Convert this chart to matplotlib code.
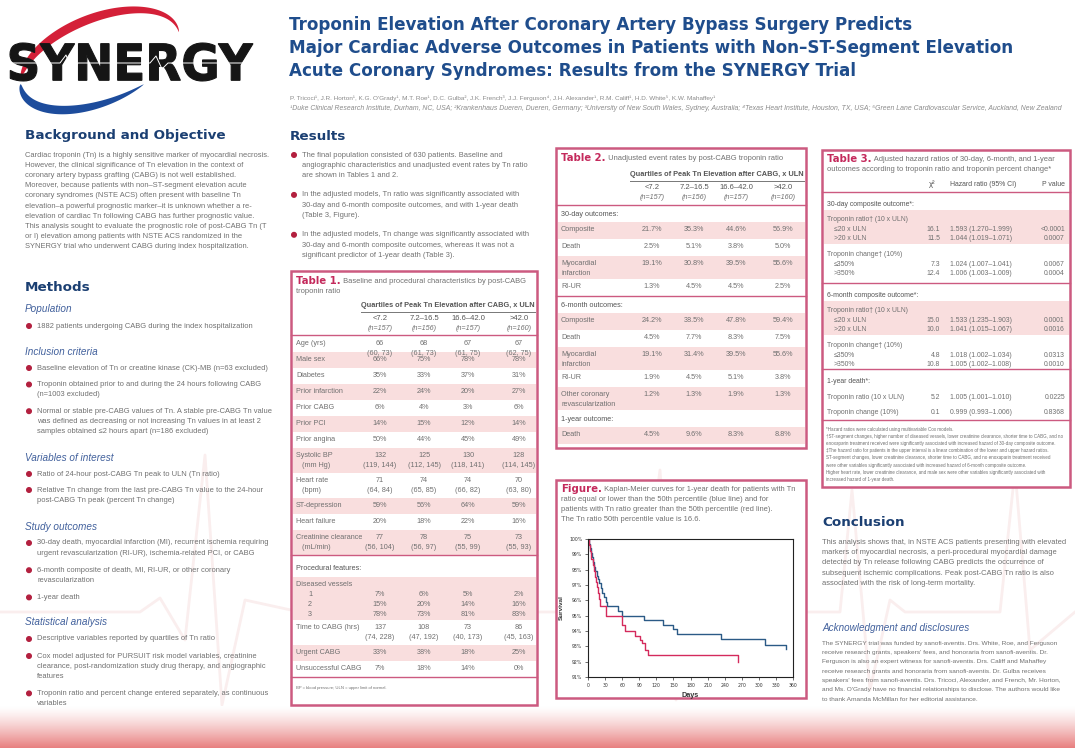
import numpy as np
import matplotlib
matplotlib.use("Agg")
import matplotlib.pyplot as plt
from matplotlib.patches import Rectangle, Polygon, PathPatch, Circle
from matplotlib.textpath import TextPath
from matplotlib.font_manager import FontProperties
from matplotlib.transforms import Affine2D

# ------------------------------------------------------------------ data
title_lines = [
    "Troponin Elevation After Coronary Artery Bypass Surgery Predicts",
    "Major Cardiac Adverse Outcomes in Patients with Non\u2013ST-Segment Elevation",
    "Acute Coronary Syndromes: Results from the SYNERGY Trial",
]
authors = ("P. Tricoci\u00b9, J.R. Horton\u00b9, K.G. O'Grady\u00b9, M.T. Roe\u00b9, D.C. Gulba\u00b2, "
           "J.K. French\u00b3, J.J. Ferguson\u2074, J.H. Alexander\u00b9, R.M. Califf\u00b9, "
           "H.D. White\u2075, K.W. Mahaffey\u00b9")
affiliations = ("\u00b9Duke Clinical Research Institute, Durham, NC, USA; \u00b2Krankenhaus Dueren, Dueren, Germany; "
                "\u00b3University of New South Wales, Sydney, Australia; \u2074Texas Heart Institute, Houston, TX, USA; "
                "\u2075Green Lane Cardiovascular Service, Auckland, New Zealand")

background_text = [
    "Cardiac troponin (Tn) is a highly sensitive marker of myocardial necrosis.",
    "However, the clinical significance of Tn elevation in the context of",
    "coronary artery bypass grafting (CABG) is not well established.",
    "Moreover, because patients with non\u2013ST-segment elevation acute",
    "coronary syndromes (NSTE ACS) often present with baseline Tn",
    "elevation\u2013a powerful prognostic marker\u2013it is unknown whether a re-",
    "elevation of cardiac Tn following CABG has further prognostic value.",
    "This analysis sought to evaluate the prognostic role of post-CABG Tn (T",
    "or I) elevation among patients with NSTE ACS randomized in the",
    "SYNERGY trial who underwent CABG during index hospitalization.",
]

methods_population = [["1882 patients undergoing CABG during the index hospitalization"]]
methods_inclusion = [
    ["Baseline elevation of Tn or creatine kinase (CK)-MB (n=63 excluded)"],
    ["Troponin obtained prior to and during the 24 hours following CABG", "(n=1003 excluded)"],
    ["Normal or stable pre-CABG values of Tn. A stable pre-CABG Tn value",
     "was defined as decreasing or not increasing Tn values in at least 2",
     "samples obtained \u22642 hours apart (n=186 excluded)"],
]
methods_variables = [
    ["Ratio of 24-hour post-CABG Tn peak to ULN (Tn ratio)"],
    ["Relative Tn change from the last pre-CABG Tn value to the 24-hour",
     "post-CABG Tn peak (percent Tn change)"],
]
methods_outcomes = [
    ["30-day death, myocardial infarction (MI), recurrent ischemia requiring",
     "urgent revascularization (RI-UR), ischemia-related PCI, or CABG"],
    ["6-month composite of death, MI, RI-UR, or other coronary", "revascularization"],
    ["1-year death"],
]
methods_stats = [
    ["Descriptive variables reported by quartiles of Tn ratio"],
    ["Cox model adjusted for PURSUIT risk model variables, creatinine",
     "clearance, post-randomization study drug therapy, and angiographic",
     "features"],
    ["Troponin ratio and percent change entered separately, as continuous",
     "variables"],
]

results_bullets = [
    ["The final population consisted of 630 patients. Baseline and",
     "angiographic characteristics and unadjusted event rates by Tn ratio",
     "are shown in Tables 1 and 2."],
    ["In the adjusted models, Tn ratio was significantly associated with",
     "30-day and 6-month composite outcomes, and with 1-year death",
     "(Table 3, Figure)."],
    ["In the adjusted models, Tn change was significantly associated with",
     "30-day and 6-month composite outcomes, whereas it was not a",
     "significant predictor of 1-year death (Table 3)."],
]

quartile_ranges = ["<7.2", "7.2\u201316.5", "16.6\u201342.0", ">42.0"]
quartile_sizes = ["(n=157)", "(n=156)", "(n=157)", "(n=160)"]

baseline_labels = ["Age (yrs)", "Male sex", "Diabetes", "Prior infarction", "Prior CABG",
                   "Prior PCI", "Prior angina", "Systolic BP\n   (mm Hg)", "Heart rate\n   (bpm)",
                   "ST-depression", "Heart failure", "Creatinine clearance\n   (mL/min)"]
baseline_values = [
    ["66\n(60, 73)", "68\n(61, 73)", "67\n(61, 75)", "67\n(62, 75)"],
    ["66%", "75%", "78%", "78%"],
    ["35%", "33%", "37%", "31%"],
    ["22%", "24%", "20%", "27%"],
    ["6%", "4%", "3%", "6%"],
    ["14%", "15%", "12%", "14%"],
    ["50%", "44%", "45%", "49%"],
    ["132\n(119, 144)", "125\n(112, 145)", "130\n(118, 141)", "128\n(114, 145)"],
    ["71\n(64, 84)", "74\n(65, 85)", "74\n(66, 82)", "70\n(63, 80)"],
    ["59%", "56%", "64%", "59%"],
    ["20%", "18%", "22%", "16%"],
    ["77\n(56, 104)", "78\n(56, 97)", "75\n(55, 99)", "73\n(55, 93)"],
]
vessel_counts = ["1", "2", "3"]
vessel_values = [
    ["7%", "6%", "5%", "2%"],
    ["15%", "20%", "14%", "16%"],
    ["78%", "73%", "81%", "83%"],
]
procedure_labels = ["Time to CABG (hrs)", "Urgent CABG", "Unsuccessful CABG"]
procedure_values = [
    ["137\n(74, 228)", "108\n(47, 192)", "73\n(40, 173)", "86\n(45, 163)"],
    ["33%", "38%", "18%", "25%"],
    ["7%", "18%", "14%", "0%"],
]

outcome_30d_labels = ["Composite", "Death", "Myocardial\ninfarction", "RI-UR"]
outcome_30d_rates = [
    ["21.7%", "35.3%", "44.6%", "56.9%"],
    ["2.5%", "5.1%", "3.8%", "5.0%"],
    ["19.1%", "30.8%", "39.5%", "55.6%"],
    ["1.3%", "4.5%", "4.5%", "2.5%"],
]
outcome_6m_labels = ["Composite", "Death", "Myocardial\ninfarction", "RI-UR",
                     "Other coronary\nrevascularization"]
outcome_6m_rates = [
    ["24.2%", "38.5%", "47.8%", "59.4%"],
    ["4.5%", "7.7%", "8.3%", "7.5%"],
    ["19.1%", "31.4%", "39.5%", "55.6%"],
    ["1.9%", "4.5%", "5.1%", "3.8%"],
    ["1.2%", "1.3%", "1.9%", "1.3%"],
]
outcome_1y_labels = ["Death"]
outcome_1y_rates = [["4.5%", "9.6%", "8.3%", "8.8%"]]

hr_30d_ratio = [["\u226420 x ULN", "16.1", "1.593 (1.270\u20131.999)", "<0.0001"],
                [">20 x ULN", "11.5", "1.044 (1.019\u20131.071)", "0.0007"]]
hr_30d_change = [["\u2264350%", "7.3", "1.024 (1.007\u20131.041)", "0.0067"],
                 [">350%", "12.4", "1.006 (1.003\u20131.009)", "0.0004"]]
hr_6m_ratio = [["\u226420 x ULN", "15.0", "1.533 (1.235\u20131.903)", "0.0001"],
               [">20 x ULN", "10.0", "1.041 (1.015\u20131.067)", "0.0016"]]
hr_6m_change = [["\u2264350%", "4.8", "1.018 (1.002\u20131.034)", "0.0313"],
                [">350%", "10.8", "1.005 (1.002\u20131.008)", "0.0010"]]
hr_1y = [["Troponin ratio (10 x ULN)", "5.2", "1.005 (1.001\u20131.010)", "0.0225"],
         ["Troponin change (10%)", "0.1", "0.999 (0.993\u20131.006)", "0.8368"]]
table3_notes = [
    "*Hazard ratios were calculated using multivariable Cox models.",
    "\u2020ST-segment changes, higher number of diseased vessels, lower creatinine clearance, shorter time to CABG, and no",
    "enoxaparin treatment received were significantly associated with increased hazard of 30-day composite outcome.",
    "\u2021The hazard ratio for patients in the upper interval is a linear combination of the lower and upper hazard ratios.",
    "ST-segment changes, lower creatinine clearance, shorter time to CABG, and no enoxaparin treatment received",
    "were other variables significantly associated with increased hazard of 6-month composite outcome.",
    "Higher heart rate, lower creatinine clearance, and male sex were other variables significantly associated with",
    "increased hazard of 1-year death.",
]

figure_caption = [
    "Kaplan-Meier curves for 1-year death for patients with Tn",
    "ratio equal or lower than the 50th percentile (blue line) and for",
    "patients with Tn ratio greater than the 50th percentile (red line).",
    "The Tn ratio 50th percentile value is 16.6.",
]

# Kaplan-Meier survival (%), Tn ratio <= 16.6 (blue) and > 16.6 (red)
km_low_days = [0, 2, 4, 5, 7, 9, 11, 13, 15, 17, 19, 22, 25, 28, 31, 34, 53, 59, 99, 131, 150, 157, 233, 311, 348]
km_low_surv = [100, 99.7, 99.4, 99.1, 98.8, 98.5, 98.2, 97.9, 97.6, 97.4, 97.1, 96.8, 96.5, 96.2, 95.9, 95.6,
               95.3, 95.0, 94.7, 94.4, 94.1, 93.8, 93.45, 93.1, 92.8]
km_high_days = [0, 2, 4, 6, 8, 10, 12, 14, 16, 18, 20, 21, 32, 59, 65, 82, 91, 95, 100, 106, 264]
km_high_surv = [100, 99.6, 99.2, 98.7, 98.3, 97.9, 97.5, 97.2, 96.9, 96.5, 96.1, 95.6, 95.0, 94.4, 94.0,
                93.7, 93.4, 93.2, 92.75, 92.45, 92.0]

conclusion_text = [
    "This analysis shows that, in NSTE ACS patients presenting with elevated",
    "markers of myocardial necrosis, a peri-procedural myocardial damage",
    "detected by Tn release following CABG predicts the occurrence of",
    "subsequent ischemic complications. Peak post-CABG Tn ratio is also",
    "associated with the risk of long-term mortality.",
]
acknowledgment_text = [
    "The SYNERGY trial was funded by sanofi-aventis. Drs. White, Roe, and Ferguson",
    "receive research grants, speakers' fees, and honoraria from sanofi-aventis. Dr.",
    "Ferguson is also an expert witness for sanofi-aventis. Drs. Califf and Mahaffey",
    "receive research grants and honoraria from sanofi-aventis. Dr. Gulba receives",
    "speakers' fees from sanofi-aventis. Drs. Tricoci, Alexander, and French, Mr. Horton,",
    "and Ms. O'Grady have no financial relationships to disclose. The authors would like",
    "to thank Amanda McMillan for her editorial assistance.",
]

# ------------------------------------------------------------------ style
W, H = 1075, 748
NAVY = "#1b3f72"
TITLE_BLUE = "#1f4d8c"
SUB_BLUE = "#41609c"
GREY = "#707070"
DARK_GREY = "#555555"
ROSE = "#cc5a80"
CRIMSON = "#c42a5c"
PINK = "#f9dede"
BULLET = "#b3203f"
BODY = ["Liberation Sans", "DejaVu Sans"]
HEAD = ["DejaVu Sans"]

fig = plt.figure(figsize=(W / 100, H / 100), dpi=100)
fig.patch.set_facecolor("white")
ov = fig.add_axes([0, 0, 1, 1])
ov.set_xlim(0, W)
ov.set_ylim(H, 0)
ov.axis("off")
R = fig.canvas.get_renderer()


def txt(x, y, s, size, color=GREY, family=BODY, weight="normal", style="normal",
        ha="left", va="center", z=5):
    return ov.text(x, y, s, fontsize=size, color=color, family=family, fontweight=weight,
                   fontstyle=style, ha=ha, va=va, zorder=z)


def width_of(t):
    return t.get_window_extent(R).width


def fitsize(s, width, **kw):
    t = txt(0, 0, s, 10, **kw)
    w = width_of(t)
    t.remove()
    return 10 * width / w


def runs(x, y, parts, size):
    for s, kw in parts:
        t = txt(x, y, s, size, **kw)
        x += width_of(t)


# ------------------------------------------------------------------ background
# faint ECG trace behind the content
ecg_x = [0, 140, 160, 185, 205, 222, 245, 300, 560, 620, 640, 660, 676, 695, 720, 840, 852, 870, 890, 905,
         1000, 1015, 1030, 1075]
ecg_y = [612, 612, 598, 640, 455, 705, 600, 612, 612, 600, 625, 470, 700, 605, 612, 612, 490, 690, 600, 612,
         612, 470, 650, 612]
ov.plot(ecg_x, ecg_y, color="#faeeee", lw=2.0, zorder=0, solid_joinstyle="round")

# bottom gradient band
band = np.linspace(0, 1, 60) ** 1.3
c0 = np.array([1.0, 1.0, 1.0])
c1 = np.array([0.91, 0.50, 0.50])
grad = (c0[None, :] * (1 - band[:, None]) + c1[None, :] * band[:, None])[:, None, :]
ov.imshow(grad, extent=[0, W, H, 706], aspect="auto", zorder=0.5, interpolation="bilinear")
ov.set_xlim(0, W)
ov.set_ylim(H, 0)

# ------------------------------------------------------------------ logo
def swoosh(t0, t1, wmax, color, skew):
    u = np.linspace(0, 1, 240)
    t = np.radians(t0 + (t1 - t0) * u)
    w = wmax * np.sin(np.pi * u ** skew) ** 0.7
    cx, cy, a, b, phi = 100, 60, 84, 42, np.radians(-22)

    def pts(aa, bb):
        x = aa * np.cos(t)
        y = bb * np.sin(t)
        return cx + x * np.cos(phi) - y * np.sin(phi), cy + x * np.sin(phi) + y * np.cos(phi)

    xo, yo = pts(a + w / 2, b + w / 2)
    xi, yi = pts(a - w / 2, b - w / 2)
    poly = np.column_stack([np.r_[xo, xi[::-1]], np.r_[yo, yi[::-1]]])
    ov.add_patch(Polygon(poly, closed=True, fc=color, ec="none", zorder=3))


swoosh(200, 365, 9, "#d42038", 0.7)
swoosh(190, 68, 9, "#1d4c9c", 0.8)

fp = FontProperties(family="DejaVu Sans", weight="bold")
tp = TextPath((0, 0), "SYNERGY", size=100, prop=fp)
bb = tp.get_extents()
tr = (Affine2D().translate(-bb.x0, -bb.y0)
      .scale((253 - 10) / bb.width, -(81 - 43) / bb.height).translate(10, 81))
ov.add_patch(PathPatch(tr.transform_path(tp), fc="#151515", ec="#151515", lw=0.8, zorder=4))
ov.plot([10, 60, 66, 72, 78, 150, 156, 162, 168, 253], [63, 63, 55, 70, 63, 63, 56, 69, 63, 63],
        color="white", lw=0.7, zorder=4.5)

# ------------------------------------------------------------------ header text
ts = fitsize(title_lines[0], 625, family=HEAD, weight="bold")
for y, line in zip([25, 48, 71], title_lines):
    txt(289, y, line, ts, color=TITLE_BLUE, family=HEAD, weight="bold")
txt(290, 98, authors, fitsize(authors, 430), color="#8a8a8a")
txt(290, 108, affiliations, fitsize(affiliations, 776, style="italic"), color="#8a8a8a", style="italic")

# ------------------------------------------------------------------ section helpers
HS = fitsize("Background and Objective", 200, family=HEAD, weight="bold")
BS = fitsize(background_text[0], 243)
SS = fitsize("Inclusion criteria", 73, style="italic")
LS = 10.2


def heading(x, y, s):
    txt(x, y, s, HS, color=NAVY, family=HEAD, weight="bold")


def subheading(x, y, s, size=None):
    txt(x, y, s, size or SS, color=SUB_BLUE, style="italic")


def bullets(xb, y, items, gap):
    for item in items:
        ov.add_patch(Circle((xb, y), 2.3, color=BULLET, zorder=5))
        for k, line in enumerate(item):
            txt(xb + 8, y + k * LS, line, BS)
        y += (len(item) - 1) * LS + gap
    return y


# left column
heading(25, 135, "Background and Objective")
for k, line in enumerate(background_text):
    txt(25, 155 + k * LS, line, BS)

heading(25, 287, "Methods")
subheading(25, 309, "Population")
bullets(29, 326, methods_population, 16)
subheading(25, 352, "Inclusion criteria")
bullets(29, 368, methods_inclusion, 16.5)
subheading(25, 458, "Variables of interest")
bullets(29, 474, methods_variables, 16)
subheading(25, 527, "Study outcomes")
bullets(29, 543, methods_outcomes, 17)
subheading(25, 622, "Statistical analysis")
bullets(29, 639, methods_stats, 17)

# results column
heading(290, 136, "Results")
bullets(294, 155, results_bullets, 19.5)

# ------------------------------------------------------------------ table helpers
TS = BS * 0.97


def box(x0, y0, x1, y1):
    ov.add_patch(Rectangle((x0, y0), x1 - x0, y1 - y0, fc="white", ec=ROSE, lw=1.8, zorder=1))


def hline(x0, x1, y, color=ROSE, lw=1.0):
    ov.plot([x0, x1], [y, y], color=color, lw=lw, zorder=2)


def shade(x0, x1, y0, y1):
    ov.add_patch(Rectangle((x0, y0), x1 - x0, y1 - y0, fc=PINK, ec="none", zorder=1.5))


def table_title(x, y, tag, lines):
    tsz = BS * 1.35
    t = txt(x, y, tag, tsz, color=CRIMSON, family=HEAD, weight="bold")
    runs(x + width_of(t), y, [(" " + lines[0], {})], BS)
    for k, line in enumerate(lines[1:]):
        txt(x, y + (k + 1) * LS, line, BS)


def quartile_header(y, xs, x0, x1):
    txt((x0 + x1) / 2, y, "Quartiles of Peak Tn Elevation after CABG, x ULN",
        fitsize("Quartiles of Peak Tn Elevation after CABG, x ULN", x1 - x0 - 2, weight="bold"),
        color=DARK_GREY, weight="bold", ha="center")
    hline(x0, x1, y + 6.5, color="#777777", lw=0.7)
    for xc, rng, n in zip(xs, quartile_ranges, quartile_sizes):
        txt(xc, y + 13.5, rng, TS * 1.05, color=DARK_GREY, ha="center")
        txt(xc, y + 23, n, TS, color=GREY, ha="center", style="italic")


def value_row(xlab, xs, top, h, label, values, shaded, x0, x1):
    if shaded:
        shade(x0, x1, top, top + h)
    lab_lines = label.split("\n")
    for k, s in enumerate(lab_lines):
        txt(xlab, top + 7.5 + k * 10, s, TS)
    for xc, v in zip(xs, values):
        for k, s in enumerate(v.split("\n")):
            txt(xc, top + 7.5 + k * 10, s, TS, ha="center")


# ------------------------------------------------------------------ Table 1
T1 = (291, 271, 537, 705)
t1_cols = [380, 424, 468, 519]
box(*T1)
ix0, ix1 = T1[0] + 1.5, T1[2] - 1.5
table_title(296, 281, "Table 1.", ["Baseline and procedural characteristics by post-CABG",
                                  "troponin ratio"])
quartile_header(305, t1_cols, 361, 535)
hline(T1[0], T1[2], 335)
y = 336
for i, (lab, vals) in enumerate(zip(baseline_labels, baseline_values)):
    h = 25 if "\n" in lab else 16
    value_row(296, t1_cols, y, h, lab, vals, i % 2 == 1, ix0, ix1)
    y += h
hline(T1[0], T1[2], y)
txt(296, y + 13, "Procedural features:", TS, color=DARK_GREY)
y += 22
shade(ix0, ix1, y, y + 43)
txt(296, y + 7, "Diseased vessels", TS)
for k, (cnt, vals) in enumerate(zip(vessel_counts, vessel_values)):
    yy = y + 17 + k * 10
    txt(308, yy, cnt, TS)
    for xc, v in zip(t1_cols, vals):
        txt(xc, yy, v, TS, ha="center")
y += 43
for i, (lab, vals) in enumerate(zip(procedure_labels, procedure_values)):
    h = 25 if "\n" in vals[0] else 16
    value_row(296, t1_cols, y, h, lab, vals, i % 2 == 1, ix0, ix1)
    y += h
hline(T1[0], T1[2], y)
txt(296, y + 11, "BP = blood pressure; ULN = upper limit of normal.", BS * 0.55)

# ------------------------------------------------------------------ Table 2
T2 = (556, 148, 806, 448)
t2_cols = [652, 694, 736, 783]
box(*T2)
jx0, jx1 = T2[0] + 1.5, T2[2] - 1.5
table_title(561, 158, "Table 2.", ["Unadjusted event rates by post-CABG troponin ratio"])
quartile_header(174, t2_cols, 630, 804)
hline(T2[0], T2[2], 205)
y = 205
for sec, labels, rates in [("30-day outcomes:", outcome_30d_labels, outcome_30d_rates),
                           ("6-month outcomes:", outcome_6m_labels, outcome_6m_rates),
                           ("1-year outcome:", outcome_1y_labels, outcome_1y_rates)]:
    txt(561, y + 9, sec, TS, color=DARK_GREY)
    y += 17
    for i, (lab, vals) in enumerate(zip(labels, rates)):
        h = 23 if "\n" in lab else 17
        value_row(561, t2_cols, y, h, lab, vals, i % 2 == 0, jx0, jx1)
        y += h
    if sec.startswith("30"):
        hline(T2[0], T2[2], y)

# ------------------------------------------------------------------ Table 3
T3 = (822, 150, 1070, 487)
box(*T3)
kx0, kx1 = T3[0] + 1.5, T3[2] - 1.5
table_title(827, 159, "Table 3.", ["Adjusted hazard ratios of 30-day, 6-month, and 1-year",
                                  "outcomes according to troponin ratio and troponin percent change*"])
T3S = TS * 0.95
CHI_X, HR_X, P_X = 940, 950, 1065
txt(932, 184, "\u03c7\u00b2", T3S * 1.1, color=DARK_GREY, ha="center")
txt(HR_X, 184, "Hazard ratio (95% CI)", T3S, color=DARK_GREY)
txt(P_X, 184, "P value", T3S, color=DARK_GREY, ha="right")
hline(T3[0], T3[2], 192)


def hr_line(yy, lab, chi, hr, p, indent):
    txt(indent, yy, lab, T3S)
    txt(CHI_X, yy, chi, T3S, ha="right")
    txt(HR_X, yy, hr, T3S)
    txt(P_X, yy, p, T3S, ha="right")


def hr_block(y, title_s, ratio_rows, change_rows):
    txt(827, y, title_s, T3S, color=DARK_GREY)
    shade(kx0, kx1, y + 6, y + 40)
    txt(827, y + 15, "Troponin ratio\u2020 (10 x ULN)", T3S)
    for k, row in enumerate(ratio_rows):
        hr_line(y + 25 + k * 9.5, *row, 834)
    txt(827, y + 50, "Troponin change\u2020 (10%)", T3S)
    for k, row in enumerate(change_rows):
        hr_line(y + 60 + k * 9.5, *row, 834)


hr_block(204, "30-day composite outcome*:", hr_30d_ratio, hr_30d_change)
hline(T3[0], T3[2], 283)
hr_block(295, "6-month composite outcome*:", hr_6m_ratio, hr_6m_change)
hline(T3[0], T3[2], 369)
txt(827, 381, "1-year death*:", T3S, color=DARK_GREY)
for k, row in enumerate(hr_1y):
    hr_line(397 + k * 15, *row, 827)
hline(T3[0], T3[2], 420)
ns = fitsize(table3_notes[1], 238)
for k, line in enumerate(table3_notes):
    txt(826, 429 + k * 7.2, line, ns)

# ------------------------------------------------------------------ Figure box
F = (556, 480, 806, 698)
box(*F)
t = txt(561, 489, "Figure.", BS * 1.35, color=CRIMSON, family=HEAD, weight="bold")
runs(561 + width_of(t), 489, [(" " + figure_caption[0], {})], BS)
for k, line in enumerate(figure_caption[1:]):
    txt(561, 499 + k * LS + 0.2, line, BS)

ax = fig.add_axes([588 / W, 1 - 677 / H, 205 / W, 138 / H])
ax.set_facecolor("white")
ax.step(km_low_days, km_low_surv, where="post", color="#2b5a86", lw=1.0)
ax.step(km_high_days, km_high_surv, where="post", color="#d42a5c", lw=1.0)
ax.set_xlim(0, 360)
ax.set_ylim(91, 100)
ax.set_xticks(np.arange(0, 361, 30))
ax.set_yticks(np.arange(91, 101, 1))
ax.set_yticklabels([f"{v}%" for v in range(91, 101)])
ax.tick_params(labelsize=3.3, length=2, width=0.5, pad=2, colors="#333333")
for sp in ax.spines.values():
    sp.set_color("#222222")
    sp.set_linewidth(0.8)
ax.set_xlabel("Days", fontsize=5.2, fontweight="bold", color="#333333", labelpad=3, family=BODY)
ax.set_ylabel("Survival", fontsize=4.6, fontweight="bold", color="#333333", labelpad=4, family=BODY)

# ------------------------------------------------------------------ right column text
heading(822, 523, "Conclusion")
cs = fitsize(conclusion_text[0], 243)
for k, line in enumerate(conclusion_text):
    txt(822, 542 + k * 10.4, line, cs)
subheading(822, 628, "Acknowledgment and disclosures",
           fitsize("Acknowledgment and disclosures", 148, style="italic"))
acs = fitsize(acknowledgment_text[4], 238)
for k, line in enumerate(acknowledgment_text):
    txt(822, 643 + k * 9.4, line, acs)

fig.savefig("out.png", dpi=100, facecolor="white")
